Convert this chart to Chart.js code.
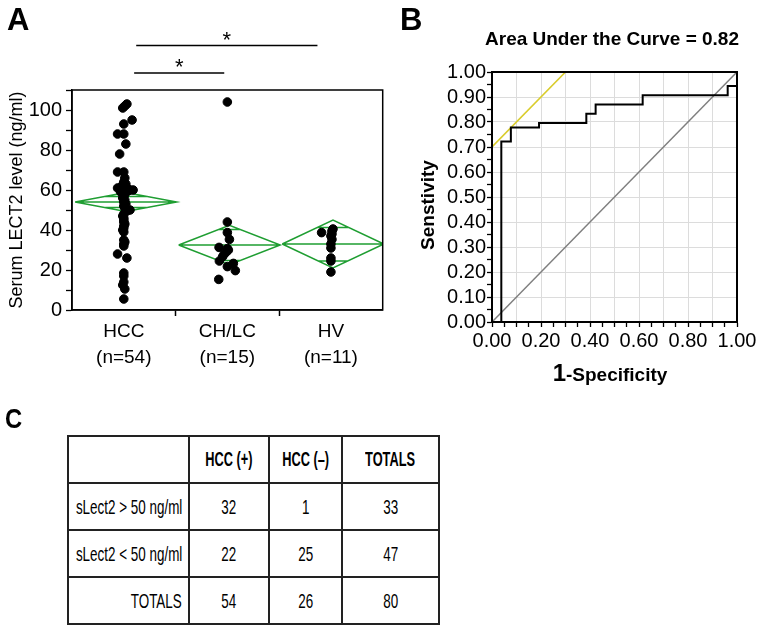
<!DOCTYPE html>
<html>
<head>
<meta charset="UTF-8">
<title>Serum LECT2 in HCC</title>
<script src="https://cdn.jsdelivr.net/npm/chart.js"></script>
<style>
  body { margin:0; background:#fff; width:764px; height:632px; position:relative; overflow:hidden;
         font-family:"Liberation Sans", Arial, sans-serif; color:#000; }
  .abs { position:absolute; }
  .letter { font-weight:bold; font-size:31px; line-height:1; }
  #chartA { position:absolute; left:0; top:0; }
  #chartB { position:absolute; left:385px; top:0; }
  #titleB { left:462px; top:29px; width:300px; text-align:center; font-weight:bold; font-size:19px; line-height:1; }
  #ytitleB { left:328px; top:194px; width:200px; height:22px; line-height:22px; text-align:center;
             font-weight:bold; font-size:19px; transform:rotate(-90deg); }
  #xtitleB { left:460px; top:360px; width:300px; text-align:center; font-weight:bold; line-height:26px; }
  #tableC { position:absolute; left:67px; top:435px; width:371px; border-collapse:collapse; table-layout:fixed;
            font-family:"Liberation Sans", Arial, sans-serif; font-size:21px; }
  #tableC td { border:2px solid #222; height:45px; padding:0 6px; white-space:nowrap; overflow:visible; }
  #tableC td .cell { display:flex; justify-content:center; }
  #tableC td.lab .cell { justify-content:flex-end; }
  #tableC td span { display:inline-block; flex:none; transform:scaleX(0.64); }
  #tableC td.lab span { transform-origin:right center; }
  #tableC tr.head td { font-weight:bold; font-size:20px; }
</style>
</head>
<body>
  <canvas id="chartA" width="388" height="380"></canvas>
  <canvas id="chartB" width="379" height="390"></canvas>

  <div class="abs letter" style="left:7px; top:4px;">A</div>
  <div class="abs letter" style="left:400px; top:4px;">B</div>
  <div class="abs" id="titleB">Area Under the Curve = 0.82</div>
  <div class="abs" id="ytitleB">Senstivity</div>
  <div class="abs" id="xtitleB"><span style="font-size:24px">1</span><span style="font-size:19px">-Specificity</span></div>
  <div class="abs letter" style="left:5px; top:405px; font-size:28px; transform:scaleX(0.85); transform-origin:left center;">C</div>

  <table id="tableC"></table>

  <script>
    // ---- panel A: serum LECT2 per group ----
    var categories = ["HCC", "CH/LC", "HV"];
    var groupN = [54, 15, 11];

    var hccValues = [103, 102, 101, 95, 93, 88, 88, 83, 78, 69, 69, 66, 64, 63, 62, 61, 61, 60.5, 60, 60,
                     59.5, 59, 58, 57, 56, 55, 54, 53, 52, 51, 50, 49.5, 48, 47, 46, 45, 44, 43, 42, 41,
                     40, 39, 35, 34, 33, 32, 28, 26, 18.5, 17, 14, 12.5, 10.5, 5.5];
    var hccJitter = [0.03, 0.01, -0.01, 0.08, 0.0, -0.06, 0.0, 0.02, -0.04, -0.06, 0.0, 0.01, 0.0, 0.02, -0.02, 0.03, -0.06, 0.0, 0.09, 0.06,
                     0.04, -0.03, 0.01, 0.0, -0.01, 0.01, 0.0, 0.02, 0.0, 0.01, 0.06, 0.03, 0.0, -0.01, 0.0, 0.0, 0.0, 0.01, 0.0, 0.0,
                     -0.01, 0.0, 0.0, 0.01, 0.0, 0.0, -0.06, 0.03, 0.0, 0.0, 0.0, -0.01, 0.01, 0.0];

    var chlcValues = [104, 44, 38.7, 35.3, 31.3, 30.7, 30, 29, 28, 26.7, 24.5, 23.3, 21.7, 19.7, 15.3];
    var chlcJitter = [0.0, 0.0, 0.0, 0.02, -0.08, 0.0, 0.01, -0.01, -0.03, -0.045, -0.077, 0.058, 0.0, 0.077, -0.083];

    var hvValues = [40.5, 39.5, 38.7, 38, 37, 35.3, 33, 31, 26, 24.5, 19];
    var hvJitter = [0.02, 0.01, -0.09, 0.01, 0.0, 0.01, 0.0, 0.0, 0.0, 0.0, 0.0];

    // means diamonds (mean, 95% CI, overlap marks)
    var means = [54, 32.5, 33];
    var ciUpper = [58.7, 42.3, 45];
    var ciLower = [49.3, 22.7, 21];
    var markUpper = [56.8, 40.2, 41.3];
    var markLower = [51.2, 24.8, 24.5];

    // ---- panel B: ROC ----
    var rocFpr = [0, 0.038, 0.077, 0.192, 0.385, 0.423, 0.615, 0.962, 1];
    var rocTpr = [0, 0.722, 0.778, 0.796, 0.833, 0.870, 0.907, 0.944, 1];
    var cutoffFpr = [0, 0.30];
    var cutoffTpr = [0.70, 1.0];
    var chanceFpr = [0, 1];
    var chanceTpr = [0, 1];

    // ---- panel C: table ----
    var tableHeader = ["", "HCC (+)", "HCC (\u2013)", "TOTALS"];
    var rowLabels = ["sLect2 > 50 ng/ml", "sLect2 < 50 ng/ml", "TOTALS"];
    var hccPos = [32, 22, 54];
    var hccNeg = [1, 25, 26];
    var rowTotals = [33, 47, 80];

    Chart.defaults.font.family = "'Liberation Sans', Arial, sans-serif";
    Chart.defaults.color = "#000";
    Chart.defaults.animation = false;
    Chart.defaults.plugins.legend.display = false;
    Chart.defaults.plugins.tooltip.enabled = false;

    var green = "#1f9e32";

    // box round the plot area
    var framePlugin = {
      id: "frame",
      afterDatasetsDraw: function(chart, args, opts) {
        var a = chart.chartArea, c = chart.ctx;
        c.save();
        c.strokeStyle = "#000";
        c.lineWidth = opts.width || 1.5;
        c.strokeRect(a.left, a.top, a.right - a.left, a.bottom - a.top);
        c.restore();
      }
    };

    // significance bars above panel A
    var sigPlugin = {
      id: "sig",
      afterDraw: function(chart, args, opts) {
        var c = chart.ctx, xs = chart.scales.x;
        c.save();
        c.strokeStyle = "#000";
        c.fillStyle = "#000";
        c.lineWidth = 1.3;
        c.font = "22px 'Liberation Sans', Arial, sans-serif";
        c.textAlign = "center";
        c.textBaseline = "alphabetic";
        opts.bars.forEach(function(b) {
          var x1 = xs.getPixelForValue(b.from), x2 = xs.getPixelForValue(b.to);
          var y = chart.chartArea.top - b.above;
          c.beginPath();
          c.moveTo(x1, y);
          c.lineTo(x2, y);
          c.stroke();
          c.fillText("*", (x1 + x2) / 2, y + 1);
        });
        c.restore();
      }
    };

    var groupValues = [hccValues, chlcValues, hvValues];
    var groupJitter = [hccJitter, chlcJitter, hvJitter];

    var datasetsA = [];
    groupValues.forEach(function(vals, g) {
      datasetsA.push({
        type: "scatter",
        data: vals.map(function(v, i) { return { x: g + 0.5 + groupJitter[g][i], y: v }; }),
        backgroundColor: "#000",
        borderColor: "#000",
        pointRadius: 4.3,
        pointHoverRadius: 4.3
      });
    });

    categories.forEach(function(cat, g) {
      var l = g + 0.03, r = g + 1.01, cx = (l + r) / 2, hw = (r - l) / 2;
      var m = means[g], top = ciUpper[g], bot = ciLower[g];
      var hu = hw * (1 - (markUpper[g] - m) / (top - m));
      var hl = hw * (1 - (m - markLower[g]) / (m - bot));
      datasetsA.push({
        type: "scatter",
        showLine: true,
        spanGaps: false,
        data: [
          { x: l, y: m }, { x: cx, y: top }, { x: r, y: m }, { x: cx, y: bot }, { x: l, y: m },
          { x: cx, y: null },
          { x: l, y: m }, { x: r, y: m },
          { x: cx, y: null },
          { x: cx - hu, y: markUpper[g] }, { x: cx + hu, y: markUpper[g] },
          { x: cx, y: null },
          { x: cx - hl, y: markLower[g] }, { x: cx + hl, y: markLower[g] }
        ],
        borderColor: green,
        borderWidth: 1.5,
        pointRadius: 0
      });
    });

    new Chart(document.getElementById("chartA"), {
      type: "scatter",
      data: { datasets: datasetsA },
      options: {
        responsive: false,
        layout: { padding: { top: 90, right: 5, left: 0, bottom: 0 } },
        scales: {
          x: {
            type: "linear", min: 0, max: 3,
            afterFit: function(s) { s.height = 70; },
            afterBuildTicks: function(s) {
              s.ticks = [0.5, 1, 1.5, 2, 2.5].map(function(v) { return { value: v }; });
            },
            ticks: {
              autoSkip: false, maxRotation: 0, padding: 2,
              font: { size: 19, lineHeight: 1.4 },
              callback: function(v) {
                var g = Math.floor(v);
                return (v - g === 0.5) ? [categories[g], "(n=" + groupN[g] + ")"] : "";
              }
            },
            grid: {
              drawOnChartArea: false, tickLength: 6, tickWidth: 1.5,
              tickColor: function(ctx) { return (ctx.tick && ctx.tick.value % 1 === 0) ? "#000" : "rgba(0,0,0,0)"; }
            },
            border: { color: "#000", width: 1.5 }
          },
          y: {
            min: 0, max: 110,
            afterFit: function(s) { s.width = 72; },
            ticks: {
              stepSize: 10, autoSkip: false, padding: 4,
              font: { size: 20 },
              callback: function(v) { return v % 20 === 0 && v <= 100 ? v : ""; }
            },
            grid: { drawOnChartArea: false, tickLength: 6, tickWidth: 1.3, tickColor: "#000" },
            border: { color: "#000", width: 1.5 },
            title: {
              display: true, text: "Serum LECT2 level (ng/ml)",
              font: { size: 18 }, padding: { top: 6, bottom: 0 }
            }
          }
        },
        plugins: {
          frame: { width: 1.5 },
          sig: { bars: [ { from: 0.62, to: 2.37, above: 44.5 }, { from: 0.6, to: 1.47, above: 17 } ] }
        }
      },
      plugins: [framePlugin, sigPlugin]
    });

    function pts(xs, ys) { return xs.map(function(x, i) { return { x: x, y: ys[i] }; }); }
    function isTenth(v) { return Math.round(v * 100) % 10 === 0; }

    new Chart(document.getElementById("chartB"), {
      type: "scatter",
      data: {
        datasets: [
          { data: pts(rocFpr, rocTpr), showLine: true, stepped: true, borderColor: "#000", borderWidth: 2, pointRadius: 0 },
          { data: pts(cutoffFpr, cutoffTpr), showLine: true, borderColor: "#d9cc2c", borderWidth: 1.6, pointRadius: 0 },
          { data: pts(chanceFpr, chanceTpr), showLine: true, borderColor: "#7f7f7f", borderWidth: 1.5, pointRadius: 0 }
        ]
      },
      options: {
        responsive: false,
        layout: { padding: { top: 72, right: 27, left: 0, bottom: 0 } },
        scales: {
          x: {
            type: "linear", min: 0, max: 1,
            afterFit: function(s) { s.height = 68; },
            ticks: {
              stepSize: 0.05, autoSkip: false, maxRotation: 0, padding: 2,
              font: { size: 20 },
              callback: function(v) { return Math.round(v * 100) % 20 === 0 ? v.toFixed(2) : ""; }
            },
            grid: {
              color: function(ctx) { return isTenth(ctx.tick.value) ? "#dcdcdc" : "rgba(0,0,0,0)"; },
              tickColor: "#000", tickLength: 5, tickWidth: 1.3
            },
            border: { color: "#000", width: 2 }
          },
          y: {
            min: 0, max: 1,
            afterFit: function(s) { s.width = 107; },
            ticks: {
              stepSize: 0.05, autoSkip: false, padding: 1,
              font: { size: 20 },
              callback: function(v) { return isTenth(v) ? v.toFixed(2) : ""; }
            },
            grid: {
              color: function(ctx) { return isTenth(ctx.tick.value) ? "#dcdcdc" : "rgba(0,0,0,0)"; },
              tickColor: "#000", tickLength: 5, tickWidth: 1.3
            },
            border: { color: "#000", width: 2 }
          }
        },
        plugins: { frame: { width: 2 } }
      },
      plugins: [framePlugin]
    });

    // panel C table
    var colWidths = [121, 80, 73, 97];
    function cell(text, cls) {
      return "<td" + (cls ? ' class="' + cls + '"' : "") + '><div class="cell"><span>' + text + "</span></div></td>";
    }
    function esc(s) { return s.replace("<", "&lt;").replace(">", "&gt;"); }
    var table = document.getElementById("tableC");
    var html = "<colgroup>";
    colWidths.forEach(function(w) { html += '<col style="width:' + w + 'px">'; });
    html += '</colgroup><tr class="head">';
    tableHeader.forEach(function(h) { html += cell(h); });
    html += "</tr>";
    rowLabels.forEach(function(lab, r) {
      html += "<tr>" + cell(esc(lab), "lab") + cell(hccPos[r]) + cell(hccNeg[r]) + cell(rowTotals[r]) + "</tr>";
    });
    table.innerHTML = html;
  </script>
</body>
</html>
